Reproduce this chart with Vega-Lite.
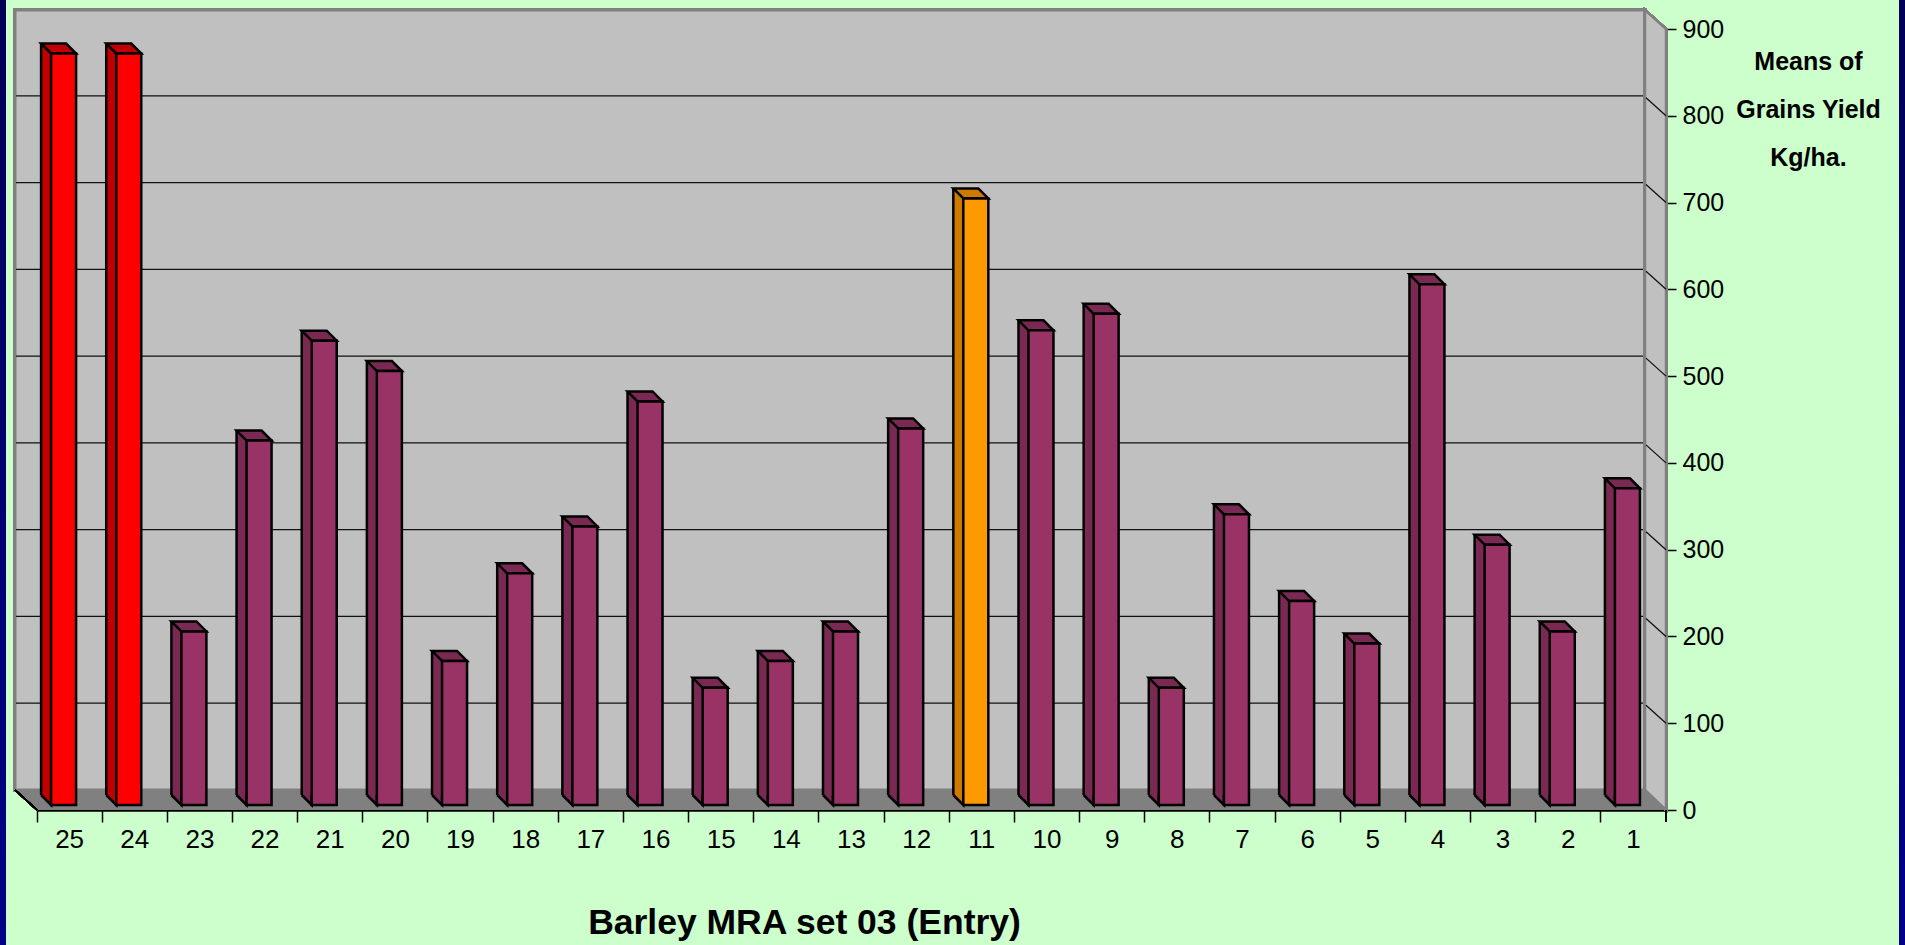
{
"$schema":"https://vega.github.io/schema/vega-lite/v6.json",
"width":1629,"height":781,
"autosize":"none",
"padding":{"left":37,"top":29,"right":239,"bottom":135},
"background":"#CCFFCC",
"config":{"view":{"stroke":null},"font":"Liberation Sans"},
"datasets":{
"bars":[
{"entry":25,"yield":866,"group":"top"},{"entry":24,"yield":866,"group":"top"},{"entry":23,"yield":200,"group":"other"},{"entry":22,"yield":420,"group":"other"},{"entry":21,"yield":535,"group":"other"},
{"entry":20,"yield":500,"group":"other"},{"entry":19,"yield":166,"group":"other"},{"entry":18,"yield":267,"group":"other"},{"entry":17,"yield":321,"group":"other"},{"entry":16,"yield":465,"group":"other"},
{"entry":15,"yield":135,"group":"other"},{"entry":14,"yield":166,"group":"other"},{"entry":13,"yield":200,"group":"other"},{"entry":12,"yield":434,"group":"other"},{"entry":11,"yield":699,"group":"check"},
{"entry":10,"yield":547,"group":"other"},{"entry":9,"yield":566,"group":"other"},{"entry":8,"yield":135,"group":"other"},{"entry":7,"yield":335,"group":"other"},{"entry":6,"yield":235,"group":"other"},
{"entry":5,"yield":186,"group":"other"},{"entry":4,"yield":600,"group":"other"},{"entry":3,"yield":300,"group":"other"},{"entry":2,"yield":200,"group":"other"},{"entry":1,"yield":365,"group":"other"}],
"grid":[{"v":100},{"v":200},{"v":300},{"v":400},{"v":500},{"v":600},{"v":700},{"v":800}]
},
"data":{"name":"bars"},
"layer":[
{"mark":{"type":"point","filled":true,"size":4,"clip":false,"strokeWidth":0,"opacity":1,"fill":{"x1":0,"y1":0,"x2":0,"y2":1,"gradient":"linear","stops":[{"offset":0,"color":"#000058"},{"offset":1,"color":"#000088"}]},"shape":"M-37,-810 H-31 V135 H-37 Z M1862,-810 H1868 V135 H1862 Z"},
 "encoding":{"x":{"datum":25,"bandPosition":0,"type":"nominal"},"y":{"datum":0,"type":"quantitative"}}},
{"mark":{"type":"point","filled":true,"size":4,"clip":false,"fill":"#C0C0C0","stroke":"#808080","strokeWidth":3,"opacity":1,"shape":"M-22,-20 V-800 H1608 V-20 Z"},
 "encoding":{"x":{"datum":25,"bandPosition":0,"type":"nominal"},"y":{"datum":0,"type":"quantitative"}}},
{"mark":{"type":"point","filled":true,"size":4,"clip":false,"fill":"#C0C0C0","stroke":"#808080","strokeWidth":2.5,"opacity":1,"shape":"M1608,-20 V-800 L1629,-781 V0 Z"},
 "encoding":{"x":{"datum":25,"bandPosition":0,"type":"nominal"},"y":{"datum":0,"type":"quantitative"}}},
{"mark":{"type":"point","filled":true,"size":4,"clip":false,"fill":"#808080","strokeWidth":0,"opacity":1,"shape":"M-22,-20 H1608 L1629,0 H0 Z"},
 "encoding":{"x":{"datum":25,"bandPosition":0,"type":"nominal"},"y":{"datum":0,"type":"quantitative"}}},
{"mark":{"type":"point","filled":false,"size":4,"clip":false,"stroke":"#000000","strokeWidth":1.5,"opacity":1,"shape":"M-22,-20 L0,0"},
 "encoding":{"x":{"datum":25,"bandPosition":0,"type":"nominal"},"y":{"datum":0,"type":"quantitative"}}},
{"data":{"name":"grid"},"mark":{"type":"point","filled":false,"size":4,"clip":false,"stroke":"#111111","strokeWidth":1.3,"opacity":1,"shape":"M-1650,-20 H-23 M-20,-18 L0,0"},
 "encoding":{"x":{"datum":1,"bandPosition":1,"type":"nominal"},"y":{"field":"v","type":"quantitative"}}},
{"mark":{"type":"rect","width":10,"xOffset":-23.5,"yOffset":-15,"y2Offset":-15},
 "encoding":{"x":{"field":"entry","type":"nominal"},"y":{"field":"yield","type":"quantitative"},"y2":{"datum":0},"color":{"field":"group","type":"nominal","legend":null,"scale":{"domain":["top","check","other"],"range":["#C00000","#CC7A00","#7A2952"]}}}},
{"mark":{"type":"rule","xOffset":-28.5,"yOffset":-15,"y2Offset":-15,"stroke":"#000000","strokeWidth":2.5},
 "encoding":{"x":{"field":"entry","type":"nominal"},"y":{"field":"yield","type":"quantitative"},"y2":{"datum":0}}},
{"mark":{"type":"point","filled":true,"size":4,"opacity":1,"stroke":"#000000","strokeWidth":2.5,"shape":"M-28.5,-15 L-18.5,-5 V-15"},
 "encoding":{"x":{"field":"entry","type":"nominal"},"y":{"datum":0,"type":"quantitative"},"color":{"field":"group","type":"nominal","legend":null}}},
{"mark":{"type":"point","filled":true,"size":4,"opacity":1,"stroke":"#000000","strokeWidth":2.5,"shape":"M-18.5,-5 L-28.5,-15 H-3.5 L6.5,-5 Z"},
 "encoding":{"x":{"field":"entry","type":"nominal"},"y":{"field":"yield","type":"quantitative"},"color":{"field":"group","type":"nominal","legend":null}}},
{"mark":{"type":"rect","width":25,"xOffset":-6,"yOffset":-5,"y2Offset":-5,"stroke":"#000000","strokeWidth":2.5},
 "encoding":{
  "x":{"field":"entry","type":"nominal","sort":null,
   "scale":{"domain":[25,24,23,22,21,20,19,18,17,16,15,14,13,12,11,10,9,8,7,6,5,4,3,2,1],"paddingInner":0,"paddingOuter":0},
   "axis":{"title":"Barley MRA set 03 (Entry)","titleFontSize":35.5,"titleFontWeight":"bold","titleColor":"#000000","titleX":767,"titleY":123,"titleAlign":"center","titleBaseline":"alphabetic","bandPosition":0,"labelAngle":0,"labelAlign":"center","labelFontSize":26,"labelColor":"#000000","labelPadding":17,"tickSize":12,"tickColor":"#000000","tickWidth":1.5,"domainColor":"#000000","domainWidth":2.5,"labelBound":false,"labelOverlap":false}},
  "y":{"field":"yield","type":"quantitative",
   "scale":{"domain":[0,900],"nice":false},
   "axis":{"orient":"right","values":[0,100,200,300,400,500,600,700,800,900],"grid":false,"title":["Means of","Grains Yield","Kg/ha."],"titleFontSize":25,"titleFontWeight":"bold","titleColor":"#000000","titleAngle":0,"titleAlign":"center","titleBaseline":"alphabetic","titleLineHeight":48,"titleX":142,"titleY":40,"labelFontSize":25,"labelColor":"#000000","labelPadding":6,"tickSize":10,"tickColor":"#000000","tickWidth":1.5,"domainColor":"#333333","domainWidth":2,"labelFlush":false}},
  "y2":{"datum":0},
  "fill":{"field":"group","type":"nominal","legend":null,"scale":{"domain":["top","check","other"],"range":["#FF0000","#FF9900","#993366"]}}}},
{"mark":{"type":"rule","clip":false,"stroke":"#000000","strokeWidth":1.5,"y2Offset":12},
 "encoding":{"x":{"datum":1,"bandPosition":1,"type":"nominal"},"y":{"datum":0,"type":"quantitative"},"y2":{"datum":0}}}
]
}
